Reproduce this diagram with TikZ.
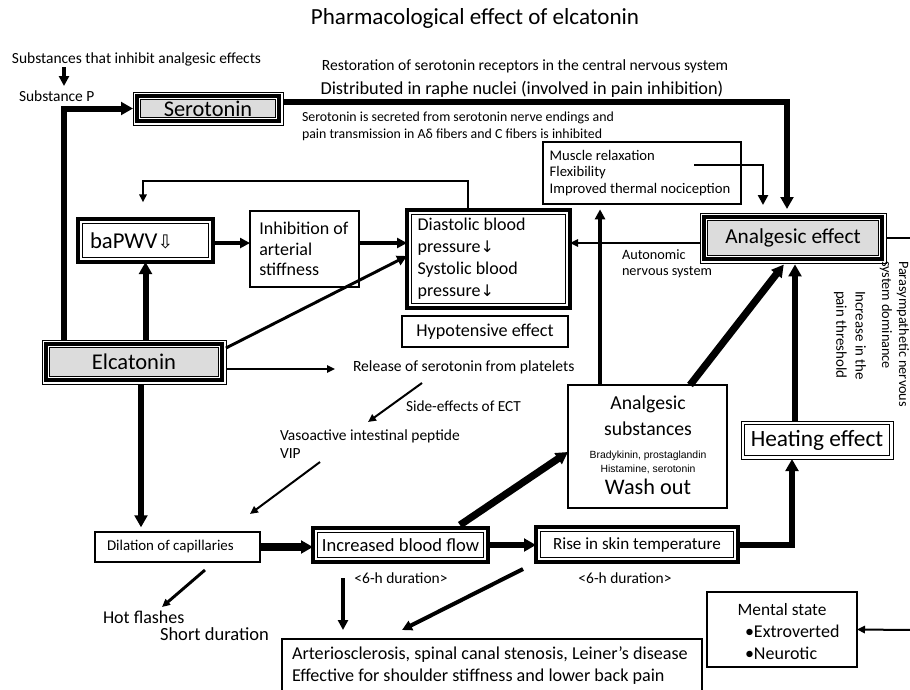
\documentclass[tikz,border=0pt]{standalone}
\usepackage{fontspec}
\setmainfont{Carlito}
\newfontfamily\arialf{Liberation Sans}
\newfontfamily\dvs{DejaVu Sans}
\usetikzlibrary{arrows.meta}
\definecolor{boxgray}{RGB}{220,220,220}
\newcommand\fsz[2]{\fontsize{#1}{#2}\selectfont}
\tikzset{
  base/.style={inner sep=0pt, outer sep=0pt, align=center},
  txt/.style={inner sep=0pt, outer sep=0pt, align=flush left},
  thinbox/.style={base, draw, line width=0.8pt},
  tribox/.style={base, draw, line width=0.7pt, path picture={
      \draw[line width=3pt] ([shift={(3.2pt,3.2pt)}]path picture bounding box.south west) rectangle ([shift={(-3.2pt,-3.2pt)}]path picture bounding box.north east);
      \draw[line width=0.6pt, fill=boxgray] ([shift={(5.9pt,5.9pt)}]path picture bounding box.south west) rectangle ([shift={(-5.9pt,-5.9pt)}]path picture bounding box.north east);}},
  thickbox/.style={base, draw, line width=#1, path picture={
      \draw[line width=0.6pt] ([shift={(3.6pt,3.6pt)}]path picture bounding box.south west) rectangle ([shift={(-3.6pt,-3.6pt)}]path picture bounding box.north east);}},
  thickbox/.default=3pt,
  dblthin/.style={base, draw, line width=0.7pt, path picture={
      \draw[line width=0.6pt] ([shift={(2.6pt,2.6pt)}]path picture bounding box.south west) rectangle ([shift={(-2.6pt,-2.6pt)}]path picture bounding box.north east);}},
  Lone/.style={line width=1.5pt},
  Ltwo/.style={line width=2.2pt},
  Lthree/.style={line width=3pt},
  Lfour/.style={line width=4.5pt},
  Lfive/.style={line width=5.4pt},
  tipS/.style={-{Triangle[length=6pt,width=5.5pt]}},
  tipM/.style={-{Triangle[length=7.5pt,width=7.5pt]}},
  tipL/.style={-{Triangle[length=9pt,width=9.5pt]}},
}
\begin{document}
\begin{tikzpicture}[x=0.75pt,y=-0.75pt, line join=miter]
\useasboundingbox (0,0) rectangle (910,689);

% texts
\node[txt, font=\fsz{17.3}{20}] (title) at (475,18) {Pharmacological effect of elcatonin};
\node[txt, anchor=west, font=\fsz{11.6}{13}] (inhib) at (12,59) {Substances that inhibit analgesic effects};
\node[txt, anchor=west, font=\fsz{11.6}{13}] (subp) at (19,96) {Substance P};
\node[txt, font=\fsz{11.7}{13}] (resto) at (525,66) {Restoration of serotonin receptors in the central nervous system};
\node[txt, font=\fsz{13.7}{16}] (distr) at (522,89) {Distributed in raphe nuclei (involved in pain inhibition)};
\node[txt, anchor=north west, font=\fsz{10.4}{12.8}] (secr) at (302,112) {Serotonin is secreted from serotonin nerve endings and\\pain transmission in Aδ fibers and C fibers is inhibited};
\node[txt, anchor=north west, font=\fsz{10.7}{12}] (auto) at (622,250) {Autonomic\\nervous system};
\node[txt, anchor=west, font=\fsz{11.7}{13}] (rel) at (353,367) {Release of serotonin from platelets};
\node[txt, anchor=west, font=\fsz{11.5}{13}] (side) at (406,406) {Side-effects of ECT};
\node[txt, anchor=north west, font=\fsz{11.6}{13}] (vip) at (280,430) {Vasoactive intestinal peptide\\VIP};
\node[txt, anchor=west, font=\fsz{13.5}{15}] (hot) at (103,617) {Hot flashes};
\node[txt, anchor=west, font=\fsz{13.9}{15}] (short) at (160,634) {Short duration};
\node[txt, font=\fsz{11.6}{13}] (dur1) at (401,578) {<6-h duration>};
\node[txt, font=\fsz{11.6}{13}] (dur2) at (625,578) {<6-h duration>};
\node[txt, rotate=-90, anchor=north west, font=\fsz{10.7}{12.8}] (para) at (909,261) {Parasympathetic nervous\\system dominance};
\node[txt, rotate=-90, anchor=north west, font=\fsz{11.2}{14.5}] (incr) at (866,291) {Increase in the\\pain threshold};

% boxes
\node[tribox, minimum width=112.5pt, minimum height=24.75pt, font=\fsz{16.8}{18}] (sero) at (208,108.5) {Serotonin};
\node[tribox, minimum width=138pt, minimum height=33pt, font=\fsz{16.9}{18}] (elc) at (134,362) {Elcatonin};
\node[tribox, minimum width=139.5pt, minimum height=37.5pt, font=\fsz{16}{18}] (ana) at (793,238) {Analgesic effect};
\node[thickbox=3pt, align=flush left, inner xsep=9pt, text width=83.25pt, minimum height=32.25pt, font=\fsz{17}{20}] (bap) at (145.5,240.5) {baPWV{\dvs\fsz{14}{16}⇩}};
\node[thinbox, align=flush left, inner xsep=7pt, text width=67.75pt, minimum height=57pt, font=\fsz{13.5}{15.4}] (inh) at (304.5,249) {Inhibition of\\arterial\\stiffness};
\node[thickbox=3.6pt, align=flush left, inner xsep=8pt, text width=106.25pt, minimum height=73.5pt, font=\fsz{13.5}{16.5}] (dia) at (488.5,259) {Diastolic blood\\pressure{\dvs\fsz{12}{13}↓}\\Systolic blood\\pressure{\dvs\fsz{12}{13}↓}};
\node[thinbox, minimum width=124.5pt, minimum height=23.25pt, font=\fsz{13.6}{15}] (hyp) at (485,331.5) {Hypotensive effect};
\node[thinbox, align=flush left, inner xsep=5pt, text width=138.5pt, minimum height=46.5pt, font=\fsz{11}{12.4}] (mus) at (642,173) {Muscle relaxation\\Flexibility\\Improved thermal nociception};
\node[thinbox, minimum width=119.25pt, minimum height=92.25pt] (sub) at (647.5,446.5) {};
\node[txt, font=\fsz{14.8}{16}] (sub1) at (648,404) {Analgesic};
\node[txt, font=\fsz{14.8}{16}] (sub2) at (648,429) {substances};
\node[txt, font=\arialf\fsz{7.8}{9}] (sub3) at (648,456) {Bradykinin, prostaglandin};
\node[txt, font=\arialf\fsz{7.8}{9}] (sub4) at (648,469) {Histamine, serotonin};
\node[txt, font=\fsz{16.7}{18}] (sub5) at (648,487) {Wash out};
\node[dblthin, minimum width=114pt, minimum height=28.5pt, font=\fsz{17.5}{19}] (heat) at (817,440) {Heating effect};
\node[thinbox, align=flush left, inner xsep=9pt, text width=105.75pt, minimum height=22.5pt, font=\fsz{11.2}{12}] (dil) at (177.5,547) {Dilation of capillaries};
\node[thickbox=3pt, minimum width=131.25pt, minimum height=25.5pt, font=\fsz{13.9}{15}] (inc) at (400.5,545) {Increased blood flow};
\node[thickbox=3pt, minimum width=151.5pt, minimum height=26.25pt, font=\fsz{12.8}{15}] (rise) at (637,544.5) {Rise in skin temperature};
\node[thinbox, align=flush left, inner xsep=7.5pt, text width=300pt, minimum height=40.5pt, font=\fsz{13.6}{16.5}] (art) at (492,666) {Arteriosclerosis, spinal canal stenosis, Leiner's disease\\Effective for shoulder stiffness and lower back pain};
\node[thinbox, minimum width=112.5pt, minimum height=56.25pt] (men) at (782,629.5) {};
\node[txt, font=\fsz{13}{15}] (men1) at (782,610) {Mental state};
\node[txt, anchor=west, font=\fsz{13.5}{15}] (men2) at (745,631) {•Extroverted};
\node[txt, anchor=west, font=\fsz{13.5}{15}] (men3) at (745,653) {•Neurotic};

% free-end coordinates
\coordinate (sA) at (64,67);
\coordinate (sB) at (64,86);
\coordinate (redge) at (912,240);
\coordinate (topturn) at (143,181);
\coordinate (s1) at (422,383);
\coordinate (s2) at (368,422);
\coordinate (v1) at (320,462);
\coordinate (v2) at (250,514);
\coordinate (hotend) at (162,607);
\coordinate (d1) at (343,578);
\coordinate (d2) at (523,569);
\coordinate (d2end) at (402,630);
\coordinate (medge) at (912,630);

% connectors
\draw[Lthree, tipM] (sA) -- (sB);
\draw[Lfour, tipL] ([xshift=-52.5pt]elc.north) |- (sero.west);
\draw[Lfour, tipL, shorten >=3pt] ([yshift=4.9pt]sero.east) -| ([xshift=-4.5pt]ana.north);
\draw[Ltwo, tipM, shorten >=6pt] ([shift={(39pt,6pt)}]mus.center) -| ([xshift=-22.5pt]ana.north);
\draw[Lone, tipS] ([yshift=-3.75pt]ana.west) -- ([yshift=-3.75pt]ana.west -| dia.east);
\draw[Lone] (ana.east) -- (ana.east -| redge);
\draw[Lone, tipS, shorten >=12.5pt] ([xshift=-15.4pt]dia.north) |- (topturn) -- (topturn |- bap.north);
\draw[Lthree, tipM] ([yshift=-1.9pt]bap.east) -- ([yshift=-1.9pt]bap.east -| inh.west);
\draw[Lthree, tipM] ([yshift=4.5pt]inh.east) -- ([yshift=4.5pt]inh.east -| dia.west);
\draw[Ltwo, tipM] ([yshift=10.5pt]elc.east) -- ([yshift=2.25pt]dia.west);
\draw[Lfour, tipL] (elc.north -| bap.south) -- (bap.south);
\draw[Lone, tipS, shorten >=13.5pt] ([yshift=-5.25pt]elc.east) -- ([yshift=-5.25pt]elc.east -| rel.west);
\draw[Lone, tipS] (s1) -- (s2);
\draw[Lone, tipS] (v1) -- (v2);
\draw[Lfour, tipL, shorten >=3.5pt] ([xshift=5.25pt]elc.south) -- ([xshift=5.25pt]elc.south |- dil.north);
\draw[Lfive, tipL] (dil.east) -- (dil.east -| inc.west);
\draw[Lfour, tipL] (inc.east) -- (inc.east -| rise.west);
\draw[Lfour, tipL] (rise.east) -| ([xshift=-18.75pt]heat.south);
\draw[Lfour, tipL, shorten >=1pt] ([xshift=-16.5pt]heat.north) -- ([xshift=-16.5pt]heat.north |- ana.south);
\draw[Lfive, tipL, shorten >=1.5pt] ([xshift=31.9pt]sub.north) -- ([xshift=-6pt]ana.south);
\draw[Lfive, tipL] ([xshift=44.6pt,yshift=2.25pt]inc.north) -- ([yshift=-4.1pt]sub.west);
\draw[Lthree, tipM, shorten >=4pt] ([xshift=-35.6pt]sub.north) -- ([xshift=-35.6pt]sub.north |- mus.south);
\draw[Ltwo, tipS] ([shift={(20.6pt,-6pt)}]dil.south) -- (hotend);
\draw[Lthree, tipM, shorten >=6.75pt] (d1) -- (d1 |- art.north);
\draw[Lthree, tipM] (d2) -- (d2end);
\draw[Lone, tipS] (medge) -- (men.east);
\end{tikzpicture}
\end{document}
